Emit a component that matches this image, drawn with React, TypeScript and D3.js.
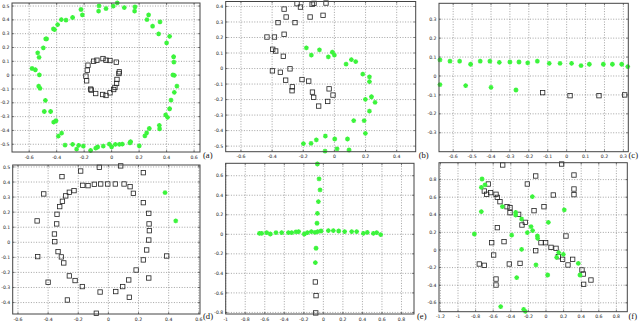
import React from 'react';
import * as d3 from 'd3';

type P = [number, number];

// ---------- data ----------
const aStars: P[] = [
  [0.041, 0.523], [-0.092, 0.501], [0.012, 0.499], [-0.041, 0.482], [0.17, 0.494], [0.092, 0.489],
  [0.167, 0.463], [-0.095, 0.463], [-0.223, 0.475], [-0.213, 0.436], [0.269, 0.436], [0.257, 0.402],
  [0.352, 0.386], [0.298, 0.354], [0.342, 0.299], [0.422, 0.28], [0.4, 0.234], [0.451, 0.133],
  [0.453, 0.094], [0.446, 0.002], [0.456, -0.002], [0.475, -0.08], [0.456, -0.125], [0.432, -0.181],
  [0.422, -0.243], [0.393, -0.287], [0.407, -0.306], [0.347, -0.364], [0.349, -0.388], [0.274, -0.386],
  [0.242, -0.439], [0.255, -0.417], [0.201, -0.511], [0.138, -0.482], [0.133, -0.489], [0.078, -0.499],
  [0.056, -0.501], [0.027, -0.501], [0.0, -0.518], [-0.017, -0.499], [-0.061, -0.513], [-0.102, -0.52],
  [-0.116, -0.528], [-0.153, -0.545], [-0.206, -0.513], [-0.24, -0.508], [-0.255, -0.535], [-0.284, -0.501],
  [-0.339, -0.506], [-0.364, -0.419], [-0.388, -0.441], [-0.405, -0.33], [-0.422, -0.34], [-0.444, -0.263],
  [-0.49, -0.263], [-0.482, -0.183], [-0.521, -0.096], [-0.531, -0.08], [-0.526, 0.002], [-0.555, 0.039],
  [-0.579, 0.048], [-0.528, 0.128], [-0.538, 0.161], [-0.497, 0.198], [-0.473, 0.263], [-0.48, 0.263],
  [-0.424, 0.335], [-0.415, 0.33], [-0.393, 0.366], [-0.366, 0.402], [-0.332, 0.398], [-0.284, 0.417],
];
const aSquares: P[] = [
  [-0.063, 0.12], [-0.041, 0.108], [-0.012, 0.106], [0.034, 0.094], [-0.107, 0.108], [-0.131, 0.101],
  [-0.172, 0.072], [-0.177, 0.036], [-0.187, -0.007], [-0.182, -0.041], [-0.153, -0.101], [-0.148, -0.108],
  [-0.116, -0.133], [-0.065, -0.14], [-0.041, -0.147], [-0.012, -0.128], [0.015, -0.104], [0.024, -0.089],
  [0.036, -0.06], [0.039, -0.031], [0.053, 0.012], [0.056, 0.024],
];

const bSquares: P[] = [
  [-0.24, 0.418], [-0.218, 0.396], [-0.143, 0.415], [-0.131, 0.42], [-0.054, 0.422], [-0.323, 0.383],
  [-0.31, 0.332], [-0.156, 0.332], [-0.073, 0.343], [-0.362, 0.296], [-0.253, 0.296], [-0.433, 0.203],
  [-0.385, 0.203], [-0.323, 0.221], [-0.396, 0.124], [-0.377, 0.113], [-0.328, 0.079], [-0.398, -0.015],
  [-0.347, -0.024], [-0.285, -0.002], [-0.313, -0.075], [-0.208, -0.071], [-0.165, -0.081], [-0.27, -0.118],
  [-0.272, -0.143], [-0.141, -0.152], [-0.034, -0.131], [-0.133, -0.186], [-0.009, -0.171], [-0.101, -0.242],
  [-0.043, -0.212],
];
const bStars: P[] = [
  [-0.18, 0.133], [-0.148, 0.086], [-0.096, 0.12], [-0.039, 0.075], [-0.013, 0.105], [0.0, 0.086],
  [0.075, 0.028], [0.109, 0.058], [0.137, 0.045], [0.182, -0.036], [0.225, -0.054], [0.225, -0.084],
  [0.199, -0.199], [0.238, -0.182], [0.261, -0.218], [0.225, -0.274], [0.124, -0.336], [0.191, -0.336],
  [0.199, -0.418], [-0.058, -0.435], [0.002, -0.454], [0.084, -0.454], [-0.116, -0.46], [-0.15, -0.482],
  [-0.199, -0.484], [0.017, -0.518], [0.094, -0.525], [-0.06, -0.532],
];

const cStars: P[] = [
  [-0.67, 0.085], [-0.617, 0.078], [-0.566, 0.078], [-0.508, 0.062], [-0.457, 0.078], [-0.406, 0.078],
  [-0.356, 0.072], [-0.3, 0.074], [-0.252, 0.074], [-0.206, 0.069], [-0.155, 0.078], [-0.092, 0.067],
  [-0.035, 0.067], [0.026, 0.067], [0.076, 0.055], [0.12, 0.062], [0.194, 0.062], [0.242, 0.062],
  [0.291, 0.062], [0.323, 0.049],
  [-0.67, -0.046], [-0.534, -0.051], [-0.4, -0.06], [-0.268, -0.074],
];
const cSquares: P[] = [
  [-0.127, -0.088], [0.018, -0.104], [0.171, -0.104], [0.307, -0.1],
];

const dSquares: P[] = [
  [-0.06, 0.498], [0.082, 0.507], [-0.308, 0.436], [-0.184, 0.473], [0.232, 0.462], [-0.429, 0.321],
  [-0.17, 0.378], [-0.135, 0.376], [-0.093, 0.385], [-0.051, 0.387], [-0.004, 0.387], [0.046, 0.387],
  [0.104, 0.387], [0.144, 0.369], [-0.228, 0.343], [-0.259, 0.332], [-0.283, 0.308], [-0.305, 0.272],
  [-0.323, 0.237], [-0.341, 0.186], [-0.343, 0.122], [-0.358, 0.055], [-0.356, 0.004], [-0.334, -0.062],
  [-0.312, -0.097], [-0.296, -0.137], [-0.259, -0.223], [-0.221, -0.254], [-0.173, -0.294], [-0.055, -0.33],
  [0.049, -0.327], [0.095, -0.294], [0.135, -0.25], [0.184, -0.184], [0.166, 0.325], [0.232, 0.263],
  [0.268, 0.192], [0.27, 0.122], [0.272, 0.077], [0.268, 0.015], [0.254, -0.051], [0.232, -0.117],
  [-0.473, 0.142], [-0.469, -0.095], [-0.4, -0.265], [-0.272, -0.383], [-0.08, -0.471], [0.139, -0.365],
  [0.387, -0.091], [0.268, -0.237],
];
const dStars: P[] = [[0.376, 0.33], [0.447, 0.142]];

const eStars: P[] = [
  [-0.655, 0.01], [-0.631, 0.01], [-0.58, 0.017], [-0.543, 0.003], [-0.485, 0.017], [-0.427, 0.017],
  [-0.358, 0.017], [-0.324, 0.017], [-0.28, 0.024], [-0.253, 0.027], [-0.195, 0.003], [-0.164, 0.017],
  [-0.123, 0.027], [-0.085, 0.02], [-0.058, 0.027], [-0.024, 0.034], [0.051, 0.038], [0.102, 0.038],
  [0.157, 0.034], [0.218, 0.027], [0.29, 0.027], [0.341, 0.027], [0.41, 0.01], [0.45, 0.02],
  [0.512, 0.01], [0.546, 0.017], [0.587, -0.003],
  [-0.061, 0.72], [-0.044, 0.567], [-0.034, 0.454], [-0.051, 0.334], [-0.061, 0.215], [-0.065, 0.113],
  [-0.075, -0.143], [-0.082, -0.29],
];
const eSquares: P[] = [[-0.082, -0.488], [-0.075, -0.628], [-0.078, -0.805]];

const fSquares: P[] = [
  [-0.492, 0.966], [0.178, 0.977], [-0.117, 0.841], [0.318, 0.852], [0.318, 0.693], [0.318, 0.629],
  [-0.655, 0.75], [-0.212, 0.75], [-0.701, 0.67], [-0.674, 0.633], [-0.629, 0.652], [-0.568, 0.633],
  [-0.553, 0.598], [-0.523, 0.549], [-0.443, 0.492], [-0.409, 0.481], [-0.409, 0.424], [-0.311, 0.405],
  [-0.273, 0.284], [-0.235, 0.314], [-0.136, 0.447], [-0.023, 0.492], [0.083, 0.625], [-0.553, 0.254],
  [-0.617, 0.083], [-0.595, -0.057], [-0.477, 0.095], [-0.117, -0.008], [-0.057, 0.083], [-0.004, 0.083],
  [0.057, 0.03], [0.114, 0.019], [0.14, -0.076], [0.189, -0.106], [0.25, -0.17], [0.303, -0.106],
  [0.409, -0.227], [0.424, -0.273], [0.511, -0.341], [0.428, -0.39], [-0.758, -0.159], [-0.701, -0.174],
  [-0.417, -0.159], [-0.295, -0.152], [-0.568, -0.33], [-0.568, -0.398], [0.227, 0.159],
];
const fStars: P[] = [
  [-0.727, 0.807], [-0.735, 0.712], [-0.693, 0.739], [-0.735, 0.436], [-0.814, 0.182], [-0.496, 0.492],
  [-0.345, 0.428], [-0.345, 0.398], [-0.277, 0.352], [-0.17, 0.265], [-0.212, 0.197], [-0.152, 0.22],
  [-0.098, 0.159], [-0.095, 0.133], [-0.277, 0.008], [-0.39, 0.17], [0.027, 0.314], [0.208, 0.455],
  [-0.155, 0.606], [0.144, -0.03], [0.197, -0.049], [0.121, -0.083], [0.367, -0.152], [0.386, -0.284],
  [0.019, -0.284], [-0.114, -0.17], [-0.333, -0.314], [-0.515, -0.644], [-0.254, -0.674], [-0.235, -0.698],
];

const aXTicks = [-0.6, -0.4, -0.2, 0, 0.2, 0.4, 0.6];
const aYTicks = [-0.5, -0.4, -0.3, -0.2, -0.1, 0, 0.1, 0.2, 0.3, 0.4, 0.5];
const bXTicks = [-0.6, -0.4, -0.2, 0, 0.2, 0.4];
const bYTicks = [-0.5, -0.4, -0.3, -0.2, -0.1, 0, 0.1, 0.2, 0.3, 0.4];
const cXTicks = [-0.6, -0.5, -0.4, -0.3, -0.2, -0.1, 0, 0.1, 0.2, 0.3];
const cYTicks = [-0.3, -0.2, -0.1, 0, 0.1, 0.2, 0.3];
const dXTicks = [-0.6, -0.4, -0.2, 0, 0.2, 0.4, 0.6];
const dYTicks = [-0.4, -0.3, -0.2, -0.1, 0, 0.1, 0.2, 0.3, 0.4, 0.5];
const eXTicks = [-1, -0.8, -0.6, -0.4, -0.2, 0, 0.2, 0.4, 0.6, 0.8];
const eYTicks = [-0.8, -0.6, -0.4, -0.2, 0, 0.2, 0.4, 0.6];
const fXTicks = [-1.2, -1, -0.8, -0.6, -0.4, -0.2, 0, 0.2, 0.4, 0.6, 0.8];
const fYTicks = [-0.6, -0.4, -0.2, 0, 0.2, 0.4, 0.6, 0.8];

const panelLabels = ['(a)', '(b)', '(c)', '(d)', '(e)', '(f)'];

// ---------- layout ----------
type Panel = {
  label: string;
  box: { l: number; r: number; t: number; b: number };
  xDom: [number, number];
  yDom: [number, number];
  xTicks: number[];
  yTicks: number[];
  stars: P[];
  squares: P[];
};

const panels: Panel[] = [
  { label: panelLabels[0], box: { l: 12, r: 200, t: 3, b: 152 }, xDom: [-0.725, 0.643], yDom: [-0.556, 0.522], xTicks: aXTicks, yTicks: aYTicks, stars: aStars, squares: aSquares },
  { label: panelLabels[1], box: { l: 225.7, r: 415.7, t: 1.5, b: 151.7 }, xDom: [-0.698, 0.522], yDom: [-0.536, 0.432], xTicks: bXTicks, yTicks: bYTicks, stars: bStars, squares: bSquares },
  { label: panelLabels[2], box: { l: 439, r: 628.3, t: 3.3, b: 151.7 }, xDom: [-0.675, 0.326], yDom: [-0.4, 0.384], xTicks: cXTicks, yTicks: cYTicks, stars: cStars, squares: cSquares },
  { label: panelLabels[3], box: { l: 12.7, r: 200, t: 165, b: 314 }, xDom: [-0.635, 0.608], yDom: [-0.476, 0.513], xTicks: dXTicks, yTicks: dYTicks, stars: dStars, squares: dSquares },
  { label: panelLabels[4], box: { l: 225.7, r: 414, t: 163.3, b: 314 }, xDom: [-1.0, 0.928], yDom: [-0.816, 0.727], xTicks: eXTicks, yTicks: eYTicks, stars: eStars, squares: eSquares },
  { label: panelLabels[5], box: { l: 439, r: 627.3, t: 162.7, b: 311.7 }, xDom: [-1.216, 0.924], yDom: [-0.701, 0.992], xTicks: fXTicks, yTicks: fYTicks, stars: fStars, squares: fSquares },
];

const fmt = (v: number) => String(+v.toFixed(2));
const GREEN = '#3cf43c';

function starPath(r: number) {
  const d = r * 0.707;
  return `M${-r},0L${r},0M0,${-r}L0,${r}M${-d},${-d}L${d},${d}M${-d},${d}L${d},${-d}`;
}

function PanelView({ p }: { p: Panel }) {
  const { box } = p;
  const x = d3.scaleLinear().domain(p.xDom).range([box.l, box.r]);
  const y = d3.scaleLinear().domain(p.yDom).range([box.b, box.t]);
  const sq = 4.4;
  const star = starPath(2.4);
  const labelY = box.t > 100 ? 318.5 : 158;
  const labelX = Math.min(box.r + 3, 628.5);
  return (
    <g>
      <rect x={box.l} y={box.t} width={box.r - box.l} height={box.b - box.t} fill="#fff" />
      {/* grid */}
      <g stroke="#666" strokeWidth={0.6} strokeDasharray="1 1.6">
        {p.xTicks.map((t) => (
          <line key={'gx' + t} x1={x(t)} x2={x(t)} y1={box.t} y2={box.b} />
        ))}
        {p.yTicks.map((t) => (
          <line key={'gy' + t} x1={box.l} x2={box.r} y1={y(t)} y2={y(t)} />
        ))}
      </g>
      {/* tick marks */}
      <g stroke="#333" strokeWidth={0.6}>
        {p.xTicks.map((t) => (
          <g key={'tx' + t}>
            <line x1={x(t)} x2={x(t)} y1={box.b} y2={box.b - 2} />
            <line x1={x(t)} x2={x(t)} y1={box.t} y2={box.t + 2} />
          </g>
        ))}
        {p.yTicks.map((t) => (
          <g key={'ty' + t}>
            <line x1={box.l} x2={box.l + 2} y1={y(t)} y2={y(t)} />
            <line x1={box.r} x2={box.r - 2} y1={y(t)} y2={y(t)} />
          </g>
        ))}
      </g>
      {/* squares */}
      <g fill="none" stroke="#222" strokeWidth={0.8}>
        {p.squares.map((d, i) => (
          <rect key={'s' + i} x={x(d[0]) - sq / 2} y={y(d[1]) - sq / 2} width={sq} height={sq} />
        ))}
      </g>
      {/* stars */}
      <g fill="none" stroke={GREEN} strokeWidth={1.3}>
        {p.stars.map((d, i) => (
          <path key={'st' + i} d={star} transform={`translate(${x(d[0])},${y(d[1])})`} />
        ))}
      </g>
      {/* box */}
      <rect x={box.l} y={box.t} width={box.r - box.l} height={box.b - box.t} fill="none" stroke="#444" strokeWidth={1} />
      {/* tick labels */}
      <g fontFamily="DejaVu Sans, sans-serif" fontSize={4.6} fill="#222">
        {p.xTicks.map((t) => (
          <text key={'lx' + t} x={x(t)} y={box.b + 6.5} textAnchor="middle">
            {fmt(t)}
          </text>
        ))}
        {p.yTicks.map((t) => (
          <text key={'ly' + t} x={box.l - 2.5} y={y(t) + 1.6} textAnchor="end">
            {fmt(t)}
          </text>
        ))}
      </g>
      <text x={labelX} y={labelY} fontFamily="Liberation Serif, Times New Roman, serif" fontSize={8.6} fill="#111">
        {p.label}
      </text>
    </g>
  );
}

export default function App() {
  return (
    <div style={{ position: 'absolute', left: 0, top: 0, width: 640, height: 321, background: '#fff' }}>
      <svg width={640} height={321} viewBox="0 0 640 321" style={{ display: 'block' }}>
        <rect width={640} height={321} fill="#fff" />
        {panels.map((p) => (
          <PanelView key={p.label} p={p} />
        ))}
      </svg>
    </div>
  );
}
